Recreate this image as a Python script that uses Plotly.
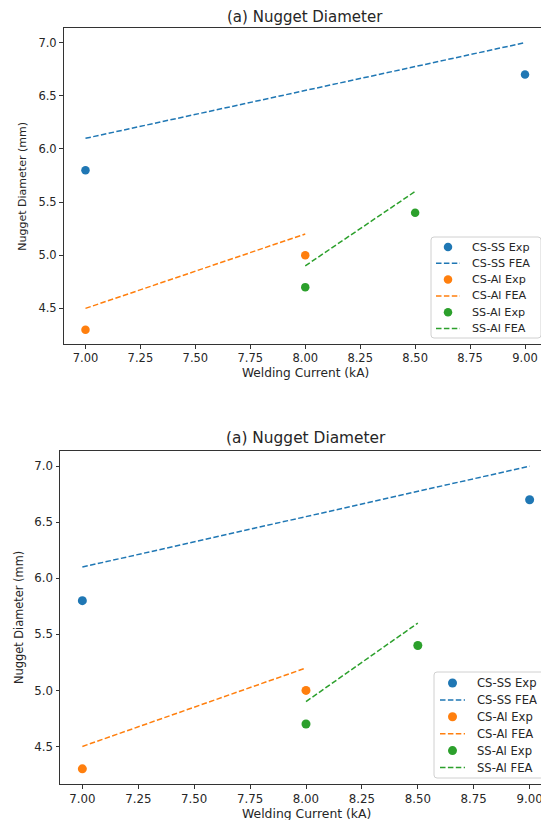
import plotly.graph_objects as go

# Data
cs_ss_x = [7.0, 9.0]
cs_ss_exp = [5.8, 6.7]
cs_ss_fea = [6.1, 7.0]
cs_al_x = [7.0, 8.0]
cs_al_exp = [4.3, 5.0]
cs_al_fea = [4.5, 5.2]
ss_al_x = [8.0, 8.5]
ss_al_exp = [4.7, 5.4]
ss_al_fea = [4.9, 5.6]
x_ticks = [7.0, 7.25, 7.5, 7.75, 8.0, 8.25, 8.5, 8.75, 9.0]
y_ticks = [4.5, 5.0, 5.5, 6.0, 6.5, 7.0]
title_text = "(a) Nugget Diameter"
x_title = "Welding Current (kA)"
y_title = "Nugget Diameter (mm)"

BLUE, ORANGE, GREEN = "#1f77b4", "#ff7f0e", "#2ca02c"
FONT = "DejaVu Sans"
TXT = "#262626"
OFF = 8  # page body margin
W, H = 549, 820 - OFF
DASH = "5.5px,2.4px"

series = [
    ("CS-SS", cs_ss_x, cs_ss_exp, cs_ss_fea, BLUE),
    ("CS-Al", cs_al_x, cs_al_exp, cs_al_fea, ORANGE),
    ("SS-Al", ss_al_x, ss_al_exp, ss_al_fea, GREEN),
]

def px(v):
    return (v - OFF) / W

def py(v):
    return 1 - (v - OFF) / H

# panel geometry in window pixels
panels = [
    dict(xa="x", ya="y", xlr=(63.5, 547), ytb=(28.3, 344), title_y=17, xt_y=373, yt_x=22.5,
         tick=11.5, lab=12.2, ylab=11, tfont=15, msize=8.5,
         leg_box=(431, 237, 541, 338), leg_rows=(247, 16.3), leg_sym=(436, 460), leg_txt=470, leg_font=11.2),
    dict(xa="x2", ya="y2", xlr=(60, 552), ytb=(451, 784), title_y=438, xt_y=813.5, yt_x=18.5,
         tick=11.8, lab=12.4, ylab=11.4, tfont=15.4, msize=9,
         leg_box=(434, 672, 547, 778), leg_rows=(683, 16.9), leg_sym=(440, 465), leg_txt=475, leg_font=11.6),
]

fig = go.Figure()

for p in panels:
    for name, xs, exp, fea, col in series:
        fig.add_trace(go.Scatter(x=xs, y=exp, mode="markers", name=f"{name} Exp",
                                 marker=dict(color=col, size=p["msize"]),
                                 xaxis=p["xa"], yaxis=p["ya"], showlegend=False))
        fig.add_trace(go.Scatter(x=xs, y=fea, mode="lines", name=f"{name} FEA",
                                 line=dict(color=col, width=1.5, dash=DASH),
                                 xaxis=p["xa"], yaxis=p["ya"], showlegend=False))

def ax_common(fs):
    return dict(showgrid=False, zeroline=False, showline=True, linecolor="#333",
                linewidth=1, mirror=True, ticks="outside", ticklen=3.5, tickcolor="#333",
                automargin=False,
                tickfont=dict(family=FONT, size=fs, color=TXT))

layout = dict(
    width=W, height=H, margin=dict(l=0, r=0, t=0, b=0),
    plot_bgcolor="white", paper_bgcolor="white",
    font=dict(family=FONT, color=TXT), showlegend=False,
)

annotations = []
shapes = []
for i, p in enumerate(panels):
    sfx = "" if i == 0 else "2"
    xl, xr = p["xlr"]
    yt, yb = p["ytb"]
    layout["xaxis" + sfx] = dict(ax_common(p["tick"]), domain=[px(xl), px(xr)], range=[6.9, 9.1],
                                 tickvals=x_ticks, ticktext=[f"{v:.2f}" for v in x_ticks],
                                 anchor="y" + sfx)
    layout["yaxis" + sfx] = dict(ax_common(p["tick"]), domain=[py(yb), py(yt)], range=[4.165, 7.135],
                                 tickvals=y_ticks, ticktext=[f"{v:.1f}" for v in y_ticks],
                                 anchor="x" + sfx)
    annotations.append(dict(text=title_text, xref="paper", yref="paper",
                            x=px((xl + xr) / 2), y=py(p["title_y"]),
                            xanchor="center", yanchor="middle", showarrow=False,
                            font=dict(family=FONT, size=p["tfont"], color=TXT)))
    annotations.append(dict(text=x_title, xref="paper", yref="paper",
                            x=px((xl + xr) / 2), y=py(p["xt_y"]),
                            xanchor="center", yanchor="middle", showarrow=False, borderpad=0,
                            font=dict(family=FONT, size=p["lab"], color=TXT)))
    annotations.append(dict(text=y_title, xref="paper", yref="paper",
                            x=px(p["yt_x"]), y=py((yt + yb) / 2), textangle=-90,
                            xanchor="center", yanchor="middle", showarrow=False,
                            font=dict(family=FONT, size=p["ylab"], color=TXT)))

    # legend (drawn as a matplotlib-style box)
    bx0, by0, bx1, by1 = p["leg_box"]
    r = 3
    path = (f"M {px(bx0 + r)},{py(by0)} L {px(bx1 - r)},{py(by0)} "
            f"Q {px(bx1)},{py(by0)} {px(bx1)},{py(by0 + r)} "
            f"L {px(bx1)},{py(by1 - r)} Q {px(bx1)},{py(by1)} {px(bx1 - r)},{py(by1)} "
            f"L {px(bx0 + r)},{py(by1)} Q {px(bx0)},{py(by1)} {px(bx0)},{py(by1 - r)} "
            f"L {px(bx0)},{py(by0 + r)} Q {px(bx0)},{py(by0)} {px(bx0 + r)},{py(by0)} Z")
    shapes.append(dict(type="path", path=path, xref="paper", yref="paper",
                       fillcolor="rgba(255,255,255,0.8)", line=dict(color="#d0d0d0", width=1),
                       layer="above"))
    row0, dy = p["leg_rows"]
    sx0, sx1 = p["leg_sym"]
    sc = (sx0 + sx1) / 2
    rad = p["msize"] / 2
    k = 0
    for name, xs, exp, fea, col in series:
        yc = row0 + dy * k
        shapes.append(dict(type="circle", xref="paper", yref="paper",
                           x0=px(sc - rad), x1=px(sc + rad), y0=py(yc + rad), y1=py(yc - rad),
                           fillcolor=col, line=dict(width=0), layer="above"))
        annotations.append(dict(text=f"{name} Exp", xref="paper", yref="paper",
                                x=px(p["leg_txt"]), y=py(yc), xanchor="left", yanchor="middle",
                                showarrow=False, font=dict(family=FONT, size=p["leg_font"], color=TXT)))
        k += 1
        yc = row0 + dy * k
        shapes.append(dict(type="line", xref="paper", yref="paper",
                           x0=px(sx0), x1=px(sx1), y0=py(yc), y1=py(yc),
                           line=dict(color=col, width=1.5, dash=DASH), layer="above"))
        annotations.append(dict(text=f"{name} FEA", xref="paper", yref="paper",
                                x=px(p["leg_txt"]), y=py(yc), xanchor="left", yanchor="middle",
                                showarrow=False, font=dict(family=FONT, size=p["leg_font"], color=TXT)))
        k += 1

layout["annotations"] = annotations
layout["shapes"] = shapes

fig.update_layout(**layout)
fig.write_html("out.html")
